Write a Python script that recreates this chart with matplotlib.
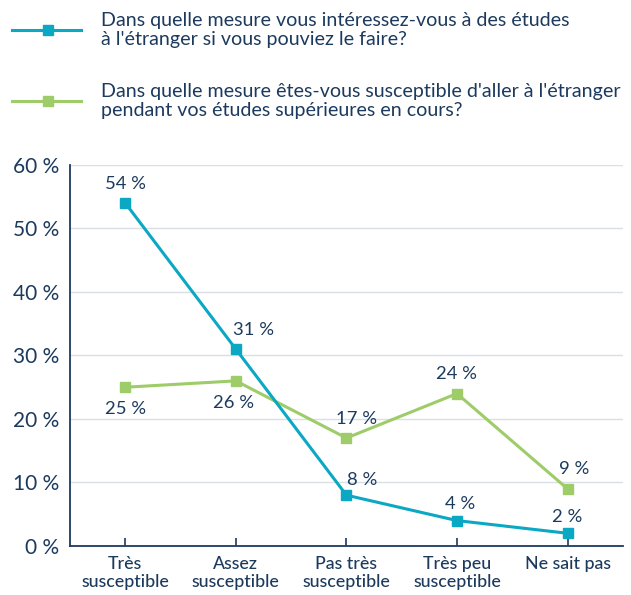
import matplotlib
matplotlib.use("Agg")
import matplotlib.pyplot as plt
from matplotlib.lines import Line2D

categories = ["Très\nsusceptible", "Assez\nsusceptible", "Pas très\nsusceptible",
              "Très peu\nsusceptible", "Ne sait pas"]
interest = [54, 31, 8, 4, 2]
likely = [25, 26, 17, 24, 9]
series_names = [
    "Dans quelle mesure vous intéressez-vous à des études\nà l'étranger si vous pouviez le faire?",
    "Dans quelle mesure êtes-vous susceptible d'aller à l'étranger\npendant vos études supérieures en cours?",
]
yticks = [0, 10, 20, 30, 40, 50, 60]

BLUE = "#0aa8c3"
GREEN = "#9dcc68"
NAVY = "#1c3a5e"
GRID = "#d8e0e5"
FONT = ["Lato", "DejaVu Sans"]

plt.rcParams["font.family"] = FONT

fig = plt.figure(figsize=(6.31, 5.95), dpi=100)
ax = fig.add_axes([0.111, 0.0824, 0.876, 0.6403])

x = list(range(len(categories)))
ax.plot(x, likely, color=GREEN, lw=2.2, marker="s", ms=7, zorder=3)
ax.plot(x, interest, color=BLUE, lw=2.2, marker="s", ms=7, zorder=4)

ax.set_xlim(-0.5, len(categories) - 0.5)
ax.set_ylim(0, 60)
ax.set_yticks(yticks)
ax.set_yticklabels([f"{v} %" for v in yticks], fontsize=15, color=NAVY)
ax.set_xticks(x)
ax.set_xticklabels(categories, fontsize=12.8, color=NAVY, fontweight="medium",
                   linespacing=1.2)
ax.tick_params(axis="x", direction="in", length=6, width=1.2, color=NAVY, pad=7)
ax.tick_params(axis="y", length=0, pad=8)
ax.grid(axis="y", color=GRID, lw=1)
ax.set_axisbelow(True)
for side in ("top", "right"):
    ax.spines[side].set_visible(False)
for side in ("left", "bottom"):
    ax.spines[side].set_color(NAVY)
    ax.spines[side].set_linewidth(1.3)

# data labels: (dx, dy) offsets in points
blue_offsets = [(0, 14), (13, 14), (11, 11), (2, 12), (0, 12)]
green_offsets = [(0, -16), (-2, -16), (7, 14), (0, 14), (5, 14)]
for xi, v, (dx, dy) in zip(x, interest, blue_offsets):
    ax.annotate(f"{v} %", (xi, v), xytext=(dx, dy), textcoords="offset points",
                ha="center", va="center", fontsize=13.3, color=NAVY)
for xi, v, (dx, dy) in zip(x, likely, green_offsets):
    ax.annotate(f"{v} %", (xi, v), xytext=(dx, dy), textcoords="offset points",
                ha="center", va="center", fontsize=13.3, color=NAVY)

# legend drawn in figure coordinates
W, H = 631, 595
for (color, name, ly) in [(BLUE, series_names[0], 30), (GREEN, series_names[1], 101)]:
    fig.add_artist(Line2D([12 / W, 81 / W], [1 - ly / H, 1 - ly / H], color=color,
                          lw=2.2, transform=fig.transFigure))
    fig.add_artist(Line2D([48 / W], [1 - ly / H], color=color, marker="s", ms=7,
                          transform=fig.transFigure))
    fig.text(101 / W, 1 - ly / H, name, ha="left", va="center", fontsize=14.1,
             color=NAVY, linespacing=1.15)

fig.savefig("out.png", dpi=100)
